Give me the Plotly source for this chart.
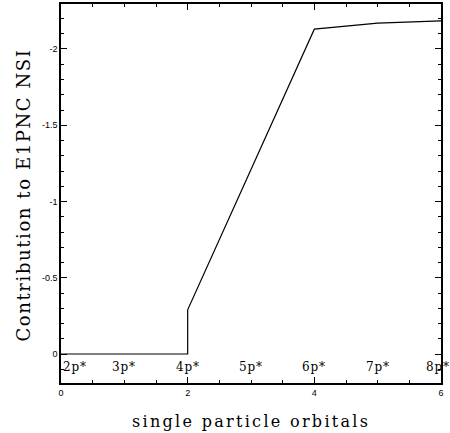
import plotly.graph_objects as go

# data
orbital_x = [0, 1, 2, 2, 3, 4, 5, 6]
contribution = [0.0, 0.0, 0.0, -0.29, -1.21, -2.13, -2.17, -2.185]
label_x = [0, 1, 2, 3, 4, 5, 6]
orbital_labels = ["2p*", "3p*", "4p*", "5p*", "6p*", "7p*", "8p*"]
label_y = 0.085


def spaced(txt, px):
    return '<span style="letter-spacing:%spx">%s</span>' % (px, txt)


fig = go.Figure()
fig.add_trace(go.Scatter(x=orbital_x, y=contribution, mode="lines",
                         line=dict(color="black", width=1.2), showlegend=False))

for xv, t in zip(label_x, orbital_labels):
    anchor = "center"
    shift = 0
    if xv == label_x[0]:
        anchor = "left"
    if xv == label_x[-1]:
        shift = -3
    fig.add_annotation(x=xv, y=label_y, text=spaced(t, 0.8), showarrow=False,
                       xanchor=anchor, yanchor="middle", xshift=shift,
                       font=dict(family="DejaVu Serif", size=12, color="black"))

fig.add_annotation(text=spaced("single particle orbitals", 2.3), xref="paper", yref="paper",
                   x=0.5, y=0, xanchor="center", yanchor="middle", yshift=-38,
                   showarrow=False,
                   font=dict(family="DejaVu Serif", size=16, color="black"))
fig.add_annotation(text=spaced("Contribution to E1PNC NSI", 1.6), xref="paper", yref="paper",
                   x=0, y=0.5, xanchor="center", yanchor="middle", xshift=-38, yshift=-2,
                   textangle=-90, showarrow=False,
                   font=dict(family="DejaVu Serif", size=18, color="black"))

axis_common = dict(showline=True, linecolor="black", linewidth=1.5, mirror="ticks",
                   ticks="inside", tickcolor="black", showgrid=False, zeroline=False,
                   automargin=False,
                   tickfont=dict(family="Liberation Sans", size=9, color="black"))

fig.update_xaxes(range=[0, 6], tickvals=[0, 2, 4, 6], ticklen=6,
                 minor=dict(dtick=0.5, tick0=0, ticks="inside", ticklen=3, tickcolor="black"),
                 **axis_common)
fig.update_yaxes(range=[0.19, -2.295], tickvals=[0, -0.5, -1, -1.5, -2],
                 ticktext=["0", "-0.5", "-1", "-1.5", "-2"], ticklen=6,
                 minor=dict(dtick=0.1, tick0=0, ticks="inside", ticklen=3, tickcolor="black"),
                 **axis_common)

fig.update_layout(width=450, height=433, margin=dict(l=61, r=9, t=4, b=50),
                  plot_bgcolor="white", paper_bgcolor="white")

fig.write_html("out.html", config={"displayModeBar": False},
               post_script="document.body.style.margin='0';")
